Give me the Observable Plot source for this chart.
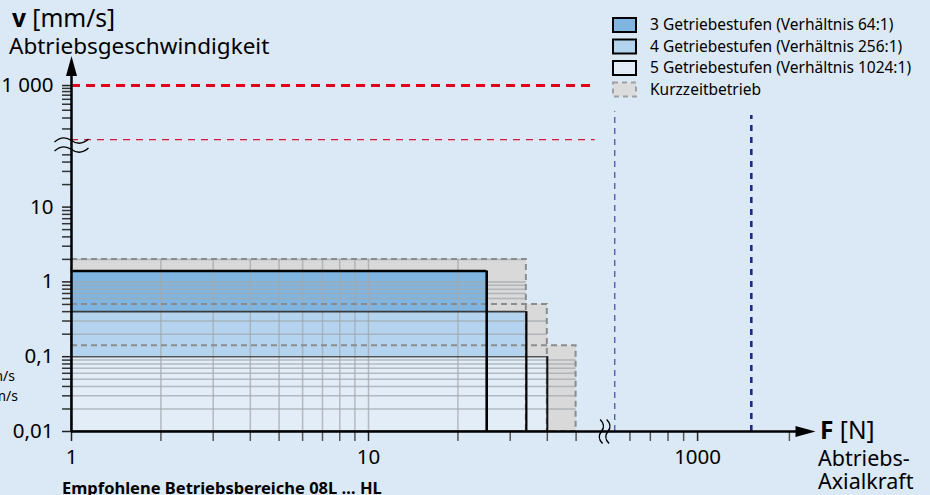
<!DOCTYPE html>
<html><head><meta charset="utf-8">
<script src="https://cdn.jsdelivr.net/npm/d3@7"></script>
<script src="https://cdn.jsdelivr.net/npm/@observablehq/plot@0.6"></script>
<style>
html,body{margin:0;padding:0;background:#dbe8f5;}
#chart{position:relative;width:930px;height:495px;overflow:hidden;background:#dbe8f5;}
</style></head><body><div id="chart"></div>
<script>
// ---- data ----
const stageNames = ["3 Getriebestufen (Verhältnis 64:1)", "4 Getriebestufen (Verhältnis 256:1)", "5 Getriebestufen (Verhältnis 1024:1)"];
const stageForceMax = [25, 34, 40];      // N
const stageSpeedMax = [1.4, 0.4, 0.1];   // mm/s
const shortName = "Kurzzeitbetrieb";
const shortForceMax = [34, 40, 50];      // N
const shortSpeedMax = [2, 0.5, 0.14];    // mm/s
const forceMin = 1;
const speedMin = 0.01;
const redSpeedLimits = [1000, 135];      // mm/s
const redForceEnd = 58;
const blueForceLimits = [535, 1500];     // N
const blueSpeedTop = [380, 330];
const xTicksMajor = [1, 10, 1000];
const xTickLabels = ["1", "10", "1000"];
const xTicksMinor = [2, 3, 4, 5, 6, 7, 8, 9, 20, 30, 40, 50, 600, 700, 800, 900, 2000];
const yTicksMajor = [0.01, 0.1, 1, 10, 1000];
const yTickLabels = ["0,01", "0,1", "1", "10", "1 000"];
const yTicksMinor = [0.02, 0.03, 0.04, 0.05, 0.06, 0.07, 0.08, 0.09, 0.2, 0.3, 0.4, 0.5, 0.6, 0.7, 0.8, 0.9,
                     2, 3, 4, 5, 6, 7, 8, 9, 20, 30, 40, 50, 200, 300, 400, 500, 600, 700, 800, 900];
const gridForce = [2, 3, 4, 5, 6, 7, 8, 9, 10, 20];
const gridSpeed = [0.02, 0.03, 0.04, 0.05, 0.06, 0.07, 0.08, 0.09, 0.2, 0.3, 0.6, 0.7, 0.8, 0.9, 1, 2];
const stageFills = ["#7fb5e0", "#b4d3ee", "#e2edf8"];

// ---- broken log axes (two log segments each) ----
const fx = v => v < 100 ? Math.log10(v) : 2.108 + (Math.log10(v) - 3) * 305 / 297;
const fy = v => v < 100 ? Math.log10(v) : 2.625 + (Math.log10(v) - 3) * 62 / 74.7;
const xMax = 2.505, yMax = 3.0;
const xBreak = 1.795, yBreak = 1.83;

const stages = stageNames.map((n, i) => ({name: n, F: stageForceMax[i], v: stageSpeedMax[i], fill: stageFills[i]}));
const shorts = shortForceMax.map((F, i) => ({F, v: shortSpeedMax[i]}));
const grayEnd = v => d3.max(shorts.filter(s => s.v >= v - 1e-9), s => s.F);
const grayTop = F => d3.max(shorts.filter(s => s.F >= F - 1e-9), s => s.v);

// symbols: arrow head and axis-break waves
const arrowSym = {draw(ctx) { ctx.moveTo(0, 0); ctx.lineTo(-20, -5.5); ctx.lineTo(-20, 5.5); ctx.closePath(); }};
const waveSym = (h, a, gap) => ({draw(ctx) {
  for (const o of [-gap / 2, gap / 2]) {
    ctx.moveTo(-h, o + a * 0.5);
    ctx.bezierCurveTo(-h * 0.6, o - a * 1.5, -h * 0.3, o - a * 1.2, 0, o);
    ctx.bezierCurveTo(h * 0.3, o + a * 1.2, h * 0.6, o + a * 1.5, h, o - a * 0.5);
  }
}});
const xLab = new Map(xTicksMajor.map((t, i) => [fx(t), xTickLabels[i]]));
const yLab = new Map(yTicksMajor.map((t, i) => [fy(t), yTickLabels[i]]));

const marks = [
  // short-time (Kurzzeit) areas
  Plot.rect(shorts, {x1: fx(forceMin), x2: d => fx(d.F), y1: fy(speedMin), y2: d => fy(d.v), fill: "#d9d9d9"}),
  // recommended ranges
  ...stages.map(s => Plot.rect([s], {x1: fx(forceMin), x2: d => fx(d.F), y1: fy(speedMin), y2: d => fy(d.v), fill: d => d.fill})),
  // grid
  Plot.ruleY(gridSpeed, {y: fy, x1: fx(forceMin), x2: v => fx(grayEnd(v)), stroke: "#a3a8ae", strokeOpacity: 0.75, strokeWidth: 1.5}),
  Plot.ruleX(gridForce, {x: fx, y1: fy(speedMin), y2: F => fy(grayTop(F)), stroke: "#a3a8ae", strokeOpacity: 0.75, strokeWidth: 1.5}),
  // dashed Kurzzeit borders
  Plot.rect(shorts, {x1: fx(forceMin), x2: d => fx(d.F), y1: fy(speedMin), y2: d => fy(d.v), fill: "none", stroke: "#8c8c8c", strokeWidth: 2, strokeDasharray: "6,4"}),
  // stage borders
  Plot.ruleY([stages[2]], {y: d => fy(d.v), x1: fx(forceMin), x2: d => fx(d.F), stroke: "#555", strokeWidth: 1.5}),
  Plot.ruleY([stages[1]], {y: d => fy(d.v), x1: fx(forceMin), x2: d => fx(d.F), stroke: "#3a3a3a", strokeWidth: 1.6}),
  Plot.ruleX([stages[2]], {x: d => fx(d.F), y1: fy(speedMin), y2: d => fy(d.v), stroke: "#111", strokeWidth: 2}),
  Plot.ruleX([stages[1]], {x: d => fx(d.F), y1: fy(speedMin), y2: d => fy(d.v), stroke: "#000", strokeWidth: 2.2}),
  Plot.ruleY([stages[0]], {y: d => fy(d.v), x1: fx(forceMin), x2: d => fx(d.F), stroke: "#000", strokeWidth: 2.6}),
  Plot.ruleX([stages[0]], {x: d => fx(d.F), y1: fy(speedMin), y2: d => fy(d.v), stroke: "#000", strokeWidth: 2.6}),
  // limit lines
  Plot.ruleY([redSpeedLimits[0]], {y: fy, x1: fx(forceMin), x2: fx(redForceEnd), stroke: "#e3001b", strokeWidth: 3, strokeDasharray: "9,6"}),
  Plot.ruleY([redSpeedLimits[1]], {y: fy, x1: fx(forceMin), x2: fx(redForceEnd), stroke: "#d8183a", strokeWidth: 1.3, strokeDasharray: "7,6"}),
  Plot.ruleX([blueForceLimits[0]], {x: fx, y1: fy(speedMin), y2: fy(blueSpeedTop[0]), stroke: "#4f63b0", strokeWidth: 1.4, strokeDasharray: "6,5"}),
  Plot.ruleX([blueForceLimits[1]], {x: fx, y1: fy(speedMin), y2: fy(blueSpeedTop[1]), stroke: "#1b2a8c", strokeWidth: 2.6, strokeDasharray: "6,6"}),
  // axes ticks
  Plot.axisX(xTicksMinor.map(fx), {tickSize: 10, tickFormat: () => "", stroke: "#555", strokeWidth: 1.5, label: null}),
  Plot.axisX(xTicksMajor.map(fx), {tickSize: 10, tickPadding: 8, tickFormat: u => xLab.get(u), stroke: "#222", strokeWidth: 1.5, fontSize: 20.5, label: null}),
  Plot.axisY(yTicksMinor.map(fy), {anchor: "left", tickSize: 9, tickFormat: () => "", stroke: "#333", strokeWidth: 1.5, label: null}),
  Plot.axisY(yTicksMajor.map(fy), {anchor: "left", tickSize: 9, tickPadding: 9, tickFormat: u => yLab.get(u), stroke: "#222", strokeWidth: 1.5, fontSize: 20.5, label: null}),
  // axis lines with arrows
  Plot.ruleY([speedMin], {y: fy, x1: fx(forceMin), x2: xMax - 0.03, stroke: "#000", strokeWidth: 2.5}),
  Plot.ruleX([forceMin], {x: fx, y1: fy(speedMin), y2: yMax - 0.1, stroke: "#000", strokeWidth: 2.5}),
  Plot.dot([0], {x: () => xMax, y: () => fy(speedMin), symbol: arrowSym, fill: "#000", stroke: null, r: 5}),
  Plot.dot([0], {x: () => fx(forceMin), y: () => yMax + 0.02, symbol: arrowSym, fill: "#000", stroke: null, r: 5, rotate: -90}),
  // axis breaks
  Plot.dot([0], {x: () => fx(forceMin), y: () => yBreak, symbol: waveSym(17, 3, 9), fill: "none", stroke: "#000", strokeWidth: 1.4, r: 5}),
  Plot.dot([0], {x: () => xBreak, y: () => fy(speedMin), symbol: waveSym(12, 2.4, 6.5), fill: "none", stroke: "#000", strokeWidth: 1.4, r: 5, rotate: 90})
];

const plot = Plot.plot({
  width: 930, height: 495,
  marginLeft: 71, marginRight: 115, marginTop: 57, marginBottom: 64,
  x: {type: "linear", domain: [0, xMax], axis: null},
  y: {type: "linear", domain: [-2, yMax], axis: null},
  style: {background: "transparent", fontFamily: "'Noto Sans', sans-serif", fontSize: "20.5px", color: "#000", overflow: "visible"},
  marks
});
document.getElementById("chart").appendChild(plot);

// ---- titles, axis names, legend ----
const svg = d3.select(plot);
const g = svg.append("g").attr("font-family", "'Noto Sans', sans-serif").attr("fill", "#000").attr("text-anchor", "start");
const t1 = g.append("text").attr("x", 12).attr("y", 27).attr("font-size", 24.5);
t1.append("tspan").attr("font-weight", "bold").text("v");
t1.append("tspan").text(" [mm/s]");
g.append("text").attr("x", 9).attr("y", 54).attr("font-size", 22.5).text("Abtriebsgeschwindigkeit");
const t2 = g.append("text").attr("x", 820).attr("y", 439).attr("font-size", 24.5);
t2.append("tspan").attr("font-weight", "bold").text("F");
t2.append("tspan").text(" [N]");
g.append("text").attr("x", 818).attr("y", 466).attr("font-size", 21.5).text("Abtriebs-");
g.append("text").attr("x", 818).attr("y", 489).attr("font-size", 21.5).text("Axialkraft");
g.append("text").attr("x", 62).attr("y", 494).attr("font-size", 16.5).attr("font-weight", "bold").text("Empfohlene Betriebsbereiche 08L … HL");
g.append("text").attr("x", 15).attr("y", 381).attr("font-size", 14).attr("text-anchor", "end").text("mm/s");
g.append("text").attr("x", 18).attr("y", 401).attr("font-size", 14).attr("text-anchor", "end").text("mm/s");

const legendItems = [
  ...stages.map(s => ({label: s.name, fill: s.fill, stroke: "#000", dash: null})),
  {label: shortName, fill: "#dcdcdc", stroke: "#a0a0a0", dash: "5,4"}
];
const lg = g.append("g").attr("font-size", 15.5);
legendItems.forEach((it, i) => {
  const cy = 25 + i * 21.5;
  lg.append("rect").attr("x", 613).attr("y", cy - 7).attr("width", 23).attr("height", 14)
    .attr("fill", it.fill).attr("stroke", it.stroke).attr("stroke-width", 2)
    .attr("stroke-dasharray", it.dash);
  lg.append("text").attr("x", 650).attr("y", cy).attr("dy", "0.35em").text(it.label);
});
</script></body></html>
